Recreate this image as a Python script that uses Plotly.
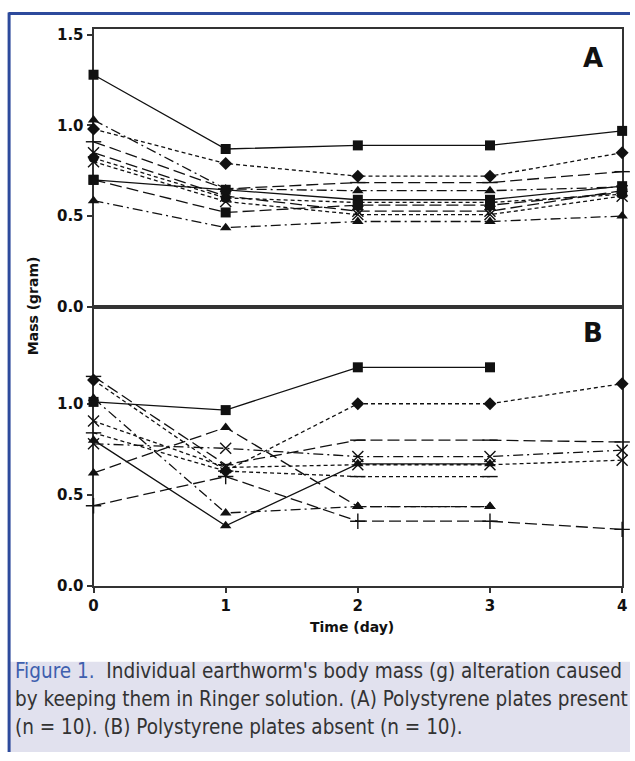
import plotly.graph_objects as go

# Time points (days)
days = [0, 1, 2, 3, 4]

# Panel A: polystyrene plates present, body mass (g) of each worm
a_worm1 = [1.28, 0.87, 0.89, 0.89, 0.97]
a_worm2 = [1.03, 0.65, 0.64, 0.64, 0.66]
a_worm3 = [0.98, 0.79, 0.72, 0.72, 0.85]
a_worm4 = [0.91, 0.65, 0.685, 0.685, 0.745]
a_worm5 = [0.82, 0.60, 0.575, 0.575, 0.62]
a_worm6 = [0.85, 0.61, 0.527, 0.527, 0.64]
a_worm7 = [0.70, 0.645, 0.59, 0.59, 0.665]
a_worm8 = [0.70, 0.52, 0.56, 0.56, 0.63]
a_worm9 = [0.80, 0.58, 0.508, 0.508, 0.61]
a_worm10 = [0.585, 0.436, 0.47, 0.47, 0.50]

# Panel B: polystyrene plates absent (None = no measurement)
b_worm1 = [1.01, 0.965, 1.20, 1.20, None]
b_worm2 = [1.13, 0.63, 1.00, 1.00, 1.11]
b_worm3 = [1.03, 0.40, 0.435, 0.435, None]
b_worm4 = [0.62, 0.87, 0.435, 0.435, None]
b_worm5 = [0.44, 0.60, 0.355, 0.355, 0.31]
b_worm6 = [0.78, 0.755, 0.71, 0.71, 0.745]
b_worm7 = [0.80, 0.33, 0.67, 0.67, None]
b_worm8 = [1.15, 0.665, 0.80, 0.80, 0.79]
b_worm9 = [0.905, 0.65, 0.665, 0.665, 0.69]
b_worm10 = [0.84, 0.63, 0.60, 0.60, None]

W, H = 635, 761
INK = "#111111"
FRAME = "#333333"

SHORT = "4px,3px"
LONG = "12px,5px"
DASHDOT = "10px,4px,2px,4px"

# (values, marker symbol, dash) per worm
panel_a = [
    (a_worm1, "square", "solid"),
    (a_worm2, "triangle-up", DASHDOT),
    (a_worm3, "diamond", SHORT),
    (a_worm4, "line-ew-open", LONG),
    (a_worm5, "circle", SHORT),
    (a_worm6, "x-thin-open", LONG),
    (a_worm7, "square", "solid"),
    (a_worm8, "square", LONG),
    (a_worm9, "x-thin-open", SHORT),
    (a_worm10, "triangle-up", DASHDOT),
]
panel_b = [
    (b_worm1, "square", "solid"),
    (b_worm2, "diamond", SHORT),
    (b_worm3, "triangle-up", DASHDOT),
    (b_worm4, "triangle-up", LONG),
    (b_worm5, "cross-thin-open", LONG),
    (b_worm6, "x-thin-open", DASHDOT),
    (b_worm7, "triangle-up", "solid"),
    (b_worm8, "line-ew-open", LONG),
    (b_worm9, "x-thin-open", SHORT),
    (b_worm10, "line-ew-open", SHORT),
]

fig = go.Figure()


def add_panel(series, xa, ya):
    for vals, sym, dash in series:
        open_sym = sym.endswith("-open")
        fig.add_trace(go.Scatter(
            x=days, y=vals, xaxis=xa, yaxis=ya, mode="lines+markers",
            connectgaps=False, showlegend=False, cliponaxis=False,
            line=dict(color=INK, width=1.3, dash=dash),
            marker=dict(symbol=sym, size=11 if open_sym else 10,
                        color=INK, line=dict(color=INK, width=1.4 if open_sym else 0)),
        ))


add_panel(panel_a, "x", "y")
add_panel(panel_b, "x2", "y2")

# Page placement: the figure is drawn slightly inset, so layout positions
# are expressed in page pixels and mapped back to paper fractions.
S, OX, OY = 0.985, 4.4, 2.5


def px(x):
    return min(1.0, max(0.0, (x - OX) / S / W))


def py(y):
    return min(1.0, max(0.0, 1 - (y - OY) / S / H))


left, right = 93, 622
a_top, mid, b_bot = 29, 307, 586

tick_font_b = dict(family="DejaVu Sans", size=15, color=INK, weight="bold")

common_axis = dict(showline=True, linecolor=FRAME, linewidth=2, mirror=True,
                   showgrid=False, zeroline=False, ticks="outside",
                   tickcolor=FRAME, tickwidth=2, ticklen=5, layer="below traces")
top_x_axis = {k: v for k, v in common_axis.items() if k != "ticks"}

fig.update_layout(
    width=W, height=H, margin=dict(l=0, r=0, t=0, b=0),
    paper_bgcolor="white", plot_bgcolor="white",
    xaxis=dict(domain=[px(left), px(right)], range=[0, 4], anchor="y",
               showticklabels=False, ticks="", **top_x_axis),
    yaxis=dict(domain=[py(mid), py(a_top)], range=[0, 1.535], anchor="x",
               tickvals=[0, 0.5, 1.0, 1.5], ticktext=["0.0", "0.5", "1.0", "1.5"],
               tickfont=tick_font_b, **common_axis),
    xaxis2=dict(domain=[px(left), px(right)], range=[0, 4], anchor="y2",
                tickvals=days, ticktext=[str(d) for d in days],
                tickfont=tick_font_b, **common_axis),
    yaxis2=dict(domain=[py(b_bot), py(mid)], range=[0, 1.533], anchor="x2",
                tickvals=[0, 0.5, 1.0], ticktext=["0.0", "0.5", "1.0"],
                tickfont=tick_font_b, **common_axis),
)

bold_label = dict(family="DejaVu Sans", size=14, color=INK, weight="bold")
panel_font = dict(family="DejaVu Sans", size=26, color=INK, weight="bold")


def label(x, y, text, font, **kw):
    return dict(x=px(x), y=py(y), text=text, showarrow=False, xref="paper", yref="paper",
                xanchor=kw.pop("xanchor", "center"), yanchor=kw.pop("yanchor", "middle"),
                font=font, **kw)


annotations = [
    label(32, 306, "Mass (gram)", bold_label, textangle=-90),
    label(352, 627, "Time (day)", bold_label),
    label(593, 58, "A", panel_font),
    label(593, 333, "B", panel_font),
]

cap_font = dict(family="Liberation Sans Narrow, DejaVu Sans Condensed, Roboto Condensed, Arial Narrow, sans-serif",
                size=20.5, color="#333333")
caption_lines = [
    "<span style='color:#3f5fae'>Figure 1.</span>  Individual earthworm's body mass (g) alteration caused",
    "by keeping them in Ringer solution. (A) Polystyrene plates present",
    "(n = 10). (B) Polystyrene plates absent (n = 10).",
]
for i, line in enumerate(caption_lines):
    annotations.append(label(12, 671 + 28 * i, line, cap_font, xanchor="left"))
fig.update_layout(annotations=annotations)

# Caption panel and blue page border
fig.add_shape(type="rect", xref="paper", yref="paper", x0=px(8), x1=1, y0=0, y1=py(662),
              fillcolor="#e1e1ee", line=dict(width=0), layer="below")
fig.add_shape(type="line", xref="paper", yref="paper", x0=px(8), x1=1, y0=py(14), y1=py(14),
              line=dict(color="#2d4a9c", width=3))
fig.add_shape(type="line", xref="paper", yref="paper", x0=px(8.5), x1=px(8.5), y0=0, y1=py(13),
              line=dict(color="#2d4a9c", width=3))

fig.write_html("out.html")
